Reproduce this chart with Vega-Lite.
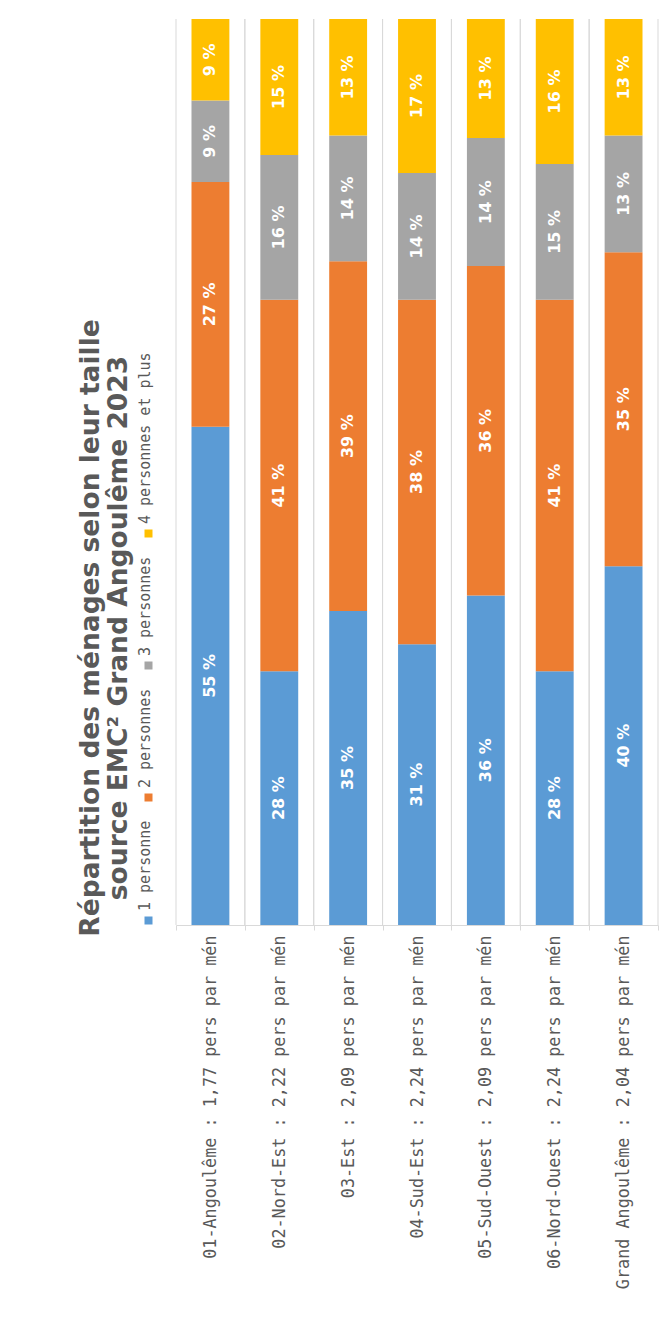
{
  "$schema": "https://vega.github.io/schema/vega-lite/v6.json",
  "width": 482,
  "height": 906,
  "autosize": {"type": "none"},
  "padding": {"left": 176, "top": 19, "right": 8, "bottom": 403},
  "background": "white",
  "config": {"view": {"stroke": null}},
  "title": {
    "text": ["Répartition des ménages selon leur taille", "source EMC² Grand Angoulême 2023"],
    "orient": "left",
    "anchor": "middle",
    "frame": "group",
    "dx": -156,
    "font": "DejaVu Sans",
    "fontSize": 26.5,
    "fontWeight": "bold",
    "color": "#595959",
    "lineHeight": 28,
    "offset": 9
  },
  "data": {
    "values": [
      {"zone": "01-Angoulême : 1,77 pers par mén", "taille": "1 personne", "ordre": 1, "pct": 55},
      {"zone": "01-Angoulême : 1,77 pers par mén", "taille": "2 personnes", "ordre": 2, "pct": 27},
      {"zone": "01-Angoulême : 1,77 pers par mén", "taille": "3 personnes", "ordre": 3, "pct": 9},
      {"zone": "01-Angoulême : 1,77 pers par mén", "taille": "4 personnes et plus", "ordre": 4, "pct": 9},
      {"zone": "02-Nord-Est : 2,22 pers par mén", "taille": "1 personne", "ordre": 1, "pct": 28},
      {"zone": "02-Nord-Est : 2,22 pers par mén", "taille": "2 personnes", "ordre": 2, "pct": 41},
      {"zone": "02-Nord-Est : 2,22 pers par mén", "taille": "3 personnes", "ordre": 3, "pct": 16},
      {"zone": "02-Nord-Est : 2,22 pers par mén", "taille": "4 personnes et plus", "ordre": 4, "pct": 15},
      {"zone": "03-Est : 2,09 pers par mén", "taille": "1 personne", "ordre": 1, "pct": 35},
      {"zone": "03-Est : 2,09 pers par mén", "taille": "2 personnes", "ordre": 2, "pct": 39},
      {"zone": "03-Est : 2,09 pers par mén", "taille": "3 personnes", "ordre": 3, "pct": 14},
      {"zone": "03-Est : 2,09 pers par mén", "taille": "4 personnes et plus", "ordre": 4, "pct": 13},
      {"zone": "04-Sud-Est : 2,24 pers par mén", "taille": "1 personne", "ordre": 1, "pct": 31},
      {"zone": "04-Sud-Est : 2,24 pers par mén", "taille": "2 personnes", "ordre": 2, "pct": 38},
      {"zone": "04-Sud-Est : 2,24 pers par mén", "taille": "3 personnes", "ordre": 3, "pct": 14},
      {"zone": "04-Sud-Est : 2,24 pers par mén", "taille": "4 personnes et plus", "ordre": 4, "pct": 17},
      {"zone": "05-Sud-Ouest : 2,09 pers par mén", "taille": "1 personne", "ordre": 1, "pct": 36},
      {"zone": "05-Sud-Ouest : 2,09 pers par mén", "taille": "2 personnes", "ordre": 2, "pct": 36},
      {"zone": "05-Sud-Ouest : 2,09 pers par mén", "taille": "3 personnes", "ordre": 3, "pct": 14},
      {"zone": "05-Sud-Ouest : 2,09 pers par mén", "taille": "4 personnes et plus", "ordre": 4, "pct": 13},
      {"zone": "06-Nord-Ouest : 2,24 pers par mén", "taille": "1 personne", "ordre": 1, "pct": 28},
      {"zone": "06-Nord-Ouest : 2,24 pers par mén", "taille": "2 personnes", "ordre": 2, "pct": 41},
      {"zone": "06-Nord-Ouest : 2,24 pers par mén", "taille": "3 personnes", "ordre": 3, "pct": 15},
      {"zone": "06-Nord-Ouest : 2,24 pers par mén", "taille": "4 personnes et plus", "ordre": 4, "pct": 16},
      {"zone": "Grand Angoulême : 2,04 pers par mén", "taille": "1 personne", "ordre": 1, "pct": 40},
      {"zone": "Grand Angoulême : 2,04 pers par mén", "taille": "2 personnes", "ordre": 2, "pct": 35},
      {"zone": "Grand Angoulême : 2,04 pers par mén", "taille": "3 personnes", "ordre": 3, "pct": 13},
      {"zone": "Grand Angoulême : 2,04 pers par mén", "taille": "4 personnes et plus", "ordre": 4, "pct": 13}
    ]
  },
  "transform": [
    {"stack": "pct", "groupby": ["zone"], "sort": [{"field": "ordre", "order": "ascending"}], "offset": "normalize", "as": ["y0", "y1"]},
    {"calculate": "(datum.y0 + datum.y1) / 2", "as": "ymid"},
    {"calculate": "datum.pct + ' %'", "as": "etiquette"}
  ],
  "encoding": {
    "x": {
      "field": "zone",
      "type": "nominal",
      "sort": null,
      "scale": {"paddingInner": 0, "paddingOuter": 0},
      "axis": {
        "title": null,
        "labelAngle": 270,
        "labelFont": "DejaVu Sans Mono",
        "labelFontSize": 16.8,
        "labelColor": "#595959",
        "labelLimit": 600,
        "labelPadding": 5,
        "grid": false,
        "tickBand": "extent",
        "domainColor": "#D9D9D9",
        "tickColor": "#D9D9D9",
        "tickSize": 5
      }
    }
  },
  "layer": [
    {
      "transform": [{"filter": "datum.ordre == 1"}],
      "mark": {"type": "rule", "color": "#D9D9D9", "strokeWidth": 1},
      "encoding": {"x": {"field": "zone", "type": "nominal", "sort": null, "bandPosition": 0}}
    },
    {
      "transform": [{"filter": "datum.ordre == 1"}],
      "mark": {"type": "rule", "color": "#D9D9D9", "strokeWidth": 1},
      "encoding": {"x": {"field": "zone", "type": "nominal", "sort": null, "bandPosition": 1}}
    },
    {
      "mark": {"type": "bar", "width": {"band": 0.55}},
      "encoding": {
        "y": {"field": "y0", "type": "quantitative", "scale": {"domain": [0, 1]}, "axis": null},
        "y2": {"field": "y1"},
        "color": {
          "field": "taille",
          "type": "nominal",
          "scale": {
            "domain": ["1 personne", "2 personnes", "3 personnes", "4 personnes et plus"],
            "range": ["#5B9BD5", "#ED7D31", "#A5A5A5", "#FFC000"]
          },
          "legend": {
            "title": null,
            "orient": "none",
            "legendX": -35,
            "legendY": 507,
            "direction": "vertical",
            "values": ["4 personnes et plus", "3 personnes", "2 personnes", "1 personne"],
            "symbolType": "square",
            "symbolSize": 64,
            "symbolStrokeWidth": 0,
            "labelFont": "DejaVu Sans Mono",
            "labelFontSize": 15,
            "labelColor": "#595959",
            "labelLimit": 300,
            "rowPadding": 18,
            "encode": {
              "labels": {
                "update": {
                  "angle": {"value": 270},
                  "align": {"value": "left"},
                  "baseline": {"value": "middle"},
                  "x": {"value": 4},
                  "y": {"value": -2}
                }
              }
            }
          }
        }
      }
    },
    {
      "mark": {"type": "text", "angle": 270, "font": "DejaVu Sans", "fontSize": 16, "fontWeight": "bold", "color": "white", "align": "center", "baseline": "middle"},
      "encoding": {
        "y": {"field": "ymid", "type": "quantitative"},
        "text": {"field": "etiquette"}
      }
    }
  ]
}
